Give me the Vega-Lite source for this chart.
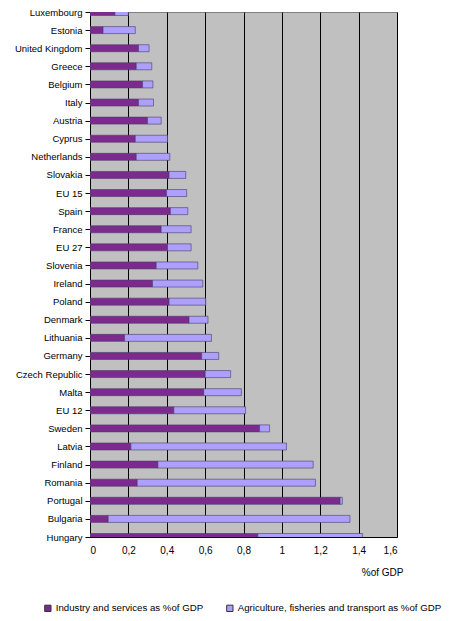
{
  "$schema": "https://vega.github.io/schema/vega-lite/v6.json",
  "autosize": {"type": "none"},
  "width": 307,
  "height": 525,
  "padding": {"left": 90, "top": 12, "right": 67, "bottom": 84},
  "background": "white",
  "config": {
    "font": "Liberation Sans",
    "view": {"fill": "#c0c0c0", "stroke": "#808080", "strokeWidth": 1}
  },
  "data": {
    "values": [
      {"country": "Luxembourg", "type": "Industry and services as %of GDP", "value": 0.13},
      {"country": "Luxembourg", "type": "Agriculture, fisheries and transport as %of GDP", "value": 0.07},
      {"country": "Estonia", "type": "Industry and services as %of GDP", "value": 0.068},
      {"country": "Estonia", "type": "Agriculture, fisheries and transport as %of GDP", "value": 0.168},
      {"country": "United Kingdom", "type": "Industry and services as %of GDP", "value": 0.253},
      {"country": "United Kingdom", "type": "Agriculture, fisheries and transport as %of GDP", "value": 0.055},
      {"country": "Greece", "type": "Industry and services as %of GDP", "value": 0.241},
      {"country": "Greece", "type": "Agriculture, fisheries and transport as %of GDP", "value": 0.081},
      {"country": "Belgium", "type": "Industry and services as %of GDP", "value": 0.274},
      {"country": "Belgium", "type": "Agriculture, fisheries and transport as %of GDP", "value": 0.054},
      {"country": "Italy", "type": "Industry and services as %of GDP", "value": 0.253},
      {"country": "Italy", "type": "Agriculture, fisheries and transport as %of GDP", "value": 0.078},
      {"country": "Austria", "type": "Industry and services as %of GDP", "value": 0.300},
      {"country": "Austria", "type": "Agriculture, fisheries and transport as %of GDP", "value": 0.071},
      {"country": "Cyprus", "type": "Industry and services as %of GDP", "value": 0.236},
      {"country": "Cyprus", "type": "Agriculture, fisheries and transport as %of GDP", "value": 0.168},
      {"country": "Netherlands", "type": "Industry and services as %of GDP", "value": 0.241},
      {"country": "Netherlands", "type": "Agriculture, fisheries and transport as %of GDP", "value": 0.175},
      {"country": "Slovakia", "type": "Industry and services as %of GDP", "value": 0.412},
      {"country": "Slovakia", "type": "Agriculture, fisheries and transport as %of GDP", "value": 0.087},
      {"country": "EU 15", "type": "Industry and services as %of GDP", "value": 0.399},
      {"country": "EU 15", "type": "Agriculture, fisheries and transport as %of GDP", "value": 0.105},
      {"country": "Spain", "type": "Industry and services as %of GDP", "value": 0.419},
      {"country": "Spain", "type": "Agriculture, fisheries and transport as %of GDP", "value": 0.091},
      {"country": "France", "type": "Industry and services as %of GDP", "value": 0.371},
      {"country": "France", "type": "Agriculture, fisheries and transport as %of GDP", "value": 0.156},
      {"country": "EU 27", "type": "Industry and services as %of GDP", "value": 0.404},
      {"country": "EU 27", "type": "Agriculture, fisheries and transport as %of GDP", "value": 0.123},
      {"country": "Slovenia", "type": "Industry and services as %of GDP", "value": 0.345},
      {"country": "Slovenia", "type": "Agriculture, fisheries and transport as %of GDP", "value": 0.217},
      {"country": "Ireland", "type": "Industry and services as %of GDP", "value": 0.326},
      {"country": "Ireland", "type": "Agriculture, fisheries and transport as %of GDP", "value": 0.262},
      {"country": "Poland", "type": "Industry and services as %of GDP", "value": 0.412},
      {"country": "Poland", "type": "Agriculture, fisheries and transport as %of GDP", "value": 0.191},
      {"country": "Denmark", "type": "Industry and services as %of GDP", "value": 0.516},
      {"country": "Denmark", "type": "Agriculture, fisheries and transport as %of GDP", "value": 0.099},
      {"country": "Lithuania", "type": "Industry and services as %of GDP", "value": 0.180},
      {"country": "Lithuania", "type": "Agriculture, fisheries and transport as %of GDP", "value": 0.453},
      {"country": "Germany", "type": "Industry and services as %of GDP", "value": 0.582},
      {"country": "Germany", "type": "Agriculture, fisheries and transport as %of GDP", "value": 0.089},
      {"country": "Czech Republic", "type": "Industry and services as %of GDP", "value": 0.600},
      {"country": "Czech Republic", "type": "Agriculture, fisheries and transport as %of GDP", "value": 0.133},
      {"country": "Malta", "type": "Industry and services as %of GDP", "value": 0.593},
      {"country": "Malta", "type": "Agriculture, fisheries and transport as %of GDP", "value": 0.196},
      {"country": "EU 12", "type": "Industry and services as %of GDP", "value": 0.437},
      {"country": "EU 12", "type": "Agriculture, fisheries and transport as %of GDP", "value": 0.374},
      {"country": "Sweden", "type": "Industry and services as %of GDP", "value": 0.884},
      {"country": "Sweden", "type": "Agriculture, fisheries and transport as %of GDP", "value": 0.052},
      {"country": "Latvia", "type": "Industry and services as %of GDP", "value": 0.213},
      {"country": "Latvia", "type": "Agriculture, fisheries and transport as %of GDP", "value": 0.811},
      {"country": "Finland", "type": "Industry and services as %of GDP", "value": 0.354},
      {"country": "Finland", "type": "Agriculture, fisheries and transport as %of GDP", "value": 0.809},
      {"country": "Romania", "type": "Industry and services as %of GDP", "value": 0.246},
      {"country": "Romania", "type": "Agriculture, fisheries and transport as %of GDP", "value": 0.929},
      {"country": "Portugal", "type": "Industry and services as %of GDP", "value": 1.303},
      {"country": "Portugal", "type": "Agriculture, fisheries and transport as %of GDP", "value": 0.012},
      {"country": "Bulgaria", "type": "Industry and services as %of GDP", "value": 0.095},
      {"country": "Bulgaria", "type": "Agriculture, fisheries and transport as %of GDP", "value": 1.260},
      {"country": "Hungary", "type": "Industry and services as %of GDP", "value": 0.875},
      {"country": "Hungary", "type": "Agriculture, fisheries and transport as %of GDP", "value": 0.546}
    ]
  },
  "mark": {"type": "bar", "height": 7, "clip": true, "stroke": "#4a3a6a", "strokeWidth": 0.6},
  "encoding": {
    "y": {
      "field": "country",
      "type": "nominal",
      "sort": null,
      "scale": {"type": "point", "padding": 0},
      "axis": {
        "title": null,
        "labelFontSize": 9.5,
        "labelColor": "black",
        "labelPadding": 3,
        "tickColor": "black",
        "tickSize": 5,
        "domainColor": "black",
        "grid": false
      }
    },
    "x": {
      "field": "value",
      "type": "quantitative",
      "stack": "zero",
      "scale": {"domain": [0, 1.6], "nice": false, "zero": true},
      "axis": {
        "values": [0, 0.2, 0.4, 0.6, 0.8, 1, 1.2, 1.4, 1.6],
        "labelExpr": "replace(format(datum.value, '~r'), '.', ',')",
        "labelFontSize": 10,
        "labelColor": "black",
        "labelPadding": 8,
        "ticks": false,
        "domainColor": "black",
        "grid": true,
        "gridColor": "black",
        "gridOpacity": 1,
        "gridWidth": 1,
        "title": "%of GDP",
        "titleFontSize": 10,
        "titleFontWeight": "normal",
        "titleColor": "black",
        "titleAlign": "right",
        "titleAnchor": "end",
        "titleBaseline": "middle",
        "titleX": 313,
        "titleY": 35
      }
    },
    "color": {
      "field": "type",
      "type": "nominal",
      "sort": ["Industry and services as %of GDP", "Agriculture, fisheries and transport as %of GDP"],
      "scale": {
        "domain": ["Industry and services as %of GDP", "Agriculture, fisheries and transport as %of GDP"],
        "range": ["#7d2a8e", "#ad9ffc"]
      },
      "legend": {
        "title": null,
        "orient": "none",
        "direction": "horizontal",
        "legendX": -47,
        "legendY": 591,
        "symbolType": "square",
        "symbolSize": 40,
        "symbolStrokeColor": "#333333",
        "symbolStrokeWidth": 1,
        "labelFontSize": 9.7,
        "labelColor": "black",
        "labelOffset": 3,
        "columnPadding": 20,
        "labelLimit": 300
      }
    },
    "order": {"field": "type", "sort": "descending"}
  }
}
